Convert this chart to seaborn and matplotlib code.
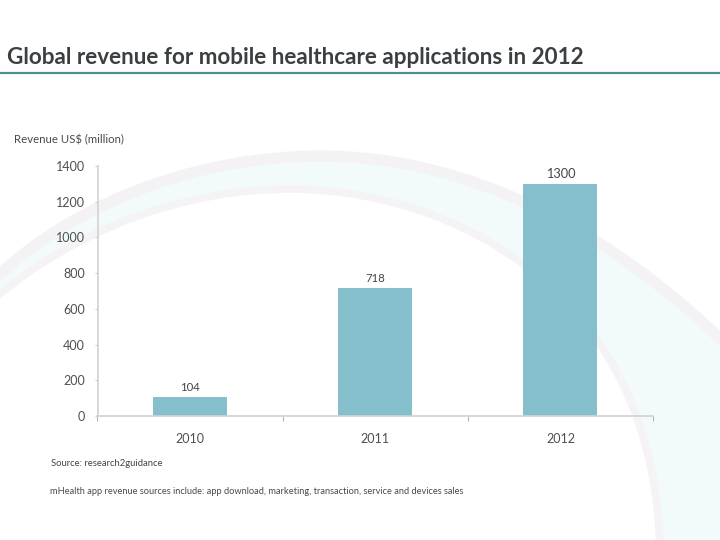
import matplotlib.pyplot as plt
import pandas as pd
import seaborn as sns
from matplotlib.patches import PathPatch
from matplotlib.path import Path

# Values
years = ["2010", "2011", "2012"]
revenue = [104, 718, 1300]
y_ticks = [0, 200, 400, 600, 800, 1000, 1200, 1400]

df = pd.DataFrame({"year": years, "revenue": revenue})

sns.set_theme(style="white")
plt.rcParams["font.family"] = ["Lato", "DejaVu Sans"]

fig = plt.figure(figsize=(7.2, 5.4), dpi=100)

# Background in pixel coordinates
bg = fig.add_axes([0, 0, 1, 1], zorder=0)
bg.set_xlim(0, 720)
bg.set_ylim(540, 0)
bg.axis("off")

C4 = Path.CURVE4
outer = [(-10, 283), (80, 195), (210, 156), (320, 156), (480, 156), (620, 240), (730, 348)]
inner = [(-10, 302), (80, 225), (190, 189), (290, 189), (450, 189), (660, 290), (660, 560)]
curve_codes = [Path.MOVETO, C4, C4, C4, C4, C4, C4]

band_verts = outer + [(730, 560)] + inner[::-1] + [(-10, 283)]
band_codes = [Path.MOVETO, C4, C4, C4, C4, C4, C4, Path.LINETO,
              Path.LINETO, C4, C4, C4, C4, C4, C4, Path.CLOSEPOLY]
bg.add_patch(PathPatch(Path(band_verts, band_codes), fc="#f2fafc", ec="none"))
bg.add_patch(PathPatch(Path(outer, curve_codes), fc="none", ec="#f4f2f5", lw=8))
bg.add_patch(PathPatch(Path(inner, curve_codes), fc="none", ec="#f5f3f6", lw=5.5))

# Title and rule
bg.text(7, 57, "Global revenue for mobile healthcare applications in 2012",
        fontsize=16.2, fontweight="bold", color="#3b3f42", va="center", ha="left")
bg.plot([0, 720], [73, 73], color="#4f8e96", lw=1.6)

# Chart
ax = fig.add_axes([97.5 / 720, 1 - 416 / 540, (653 - 97.5) / 720, 250 / 540], zorder=1)
ax.patch.set_alpha(0)
sns.barplot(data=df, x="year", y="revenue", color="#85bfcc", saturation=1, width=0.4,
            linewidth=0, ax=ax)
ax.set_xlim(-0.5, 2.5)
ax.set_ylim(0, 1400)
ax.set_yticks(y_ticks)
ax.set_xlabel("")
ax.set_ylabel("")

for spine in ["top", "right"]:
    ax.spines[spine].set_visible(False)
for spine in ["left", "bottom"]:
    ax.spines[spine].set_color("#d2d2d2")
    ax.spines[spine].set_linewidth(1.2)

ax.set_xticks([-0.5, 0.5, 1.5, 2.5], minor=True)
ax.tick_params(axis="x", which="major", length=0, pad=12, labelsize=9, labelcolor="#4f4f4f")
ax.tick_params(axis="x", which="minor", length=3.5, width=0.8, color="#b5b5b5", bottom=True)
ax.tick_params(axis="y", length=2.5, width=0.8, color="#cccccc", left=True, pad=6.5,
               labelsize=9, labelcolor="#4f4f4f")

bar_texts = ax.bar_label(ax.containers[0], padding=3, fontsize=8.2, color="#444444")
# the 2012 label is a bit bigger in the original
bar_texts[2].set_fontsize(9.2)

# Notes
bg.text(14, 140, "Revenue US$ (million)", fontsize=8.2, color="#4a4a4a", va="center", ha="left")
bg.text(51, 463, "Source: research2guidance", fontsize=6.8, color="#444444", va="center", ha="left")
bg.text(50, 491, "mHealth app revenue sources include: app download, marketing, transaction, service and devices sales",
        fontsize=6.7, color="#4a4a4a", va="center", ha="left")

fig.savefig("out.png", dpi=100)
